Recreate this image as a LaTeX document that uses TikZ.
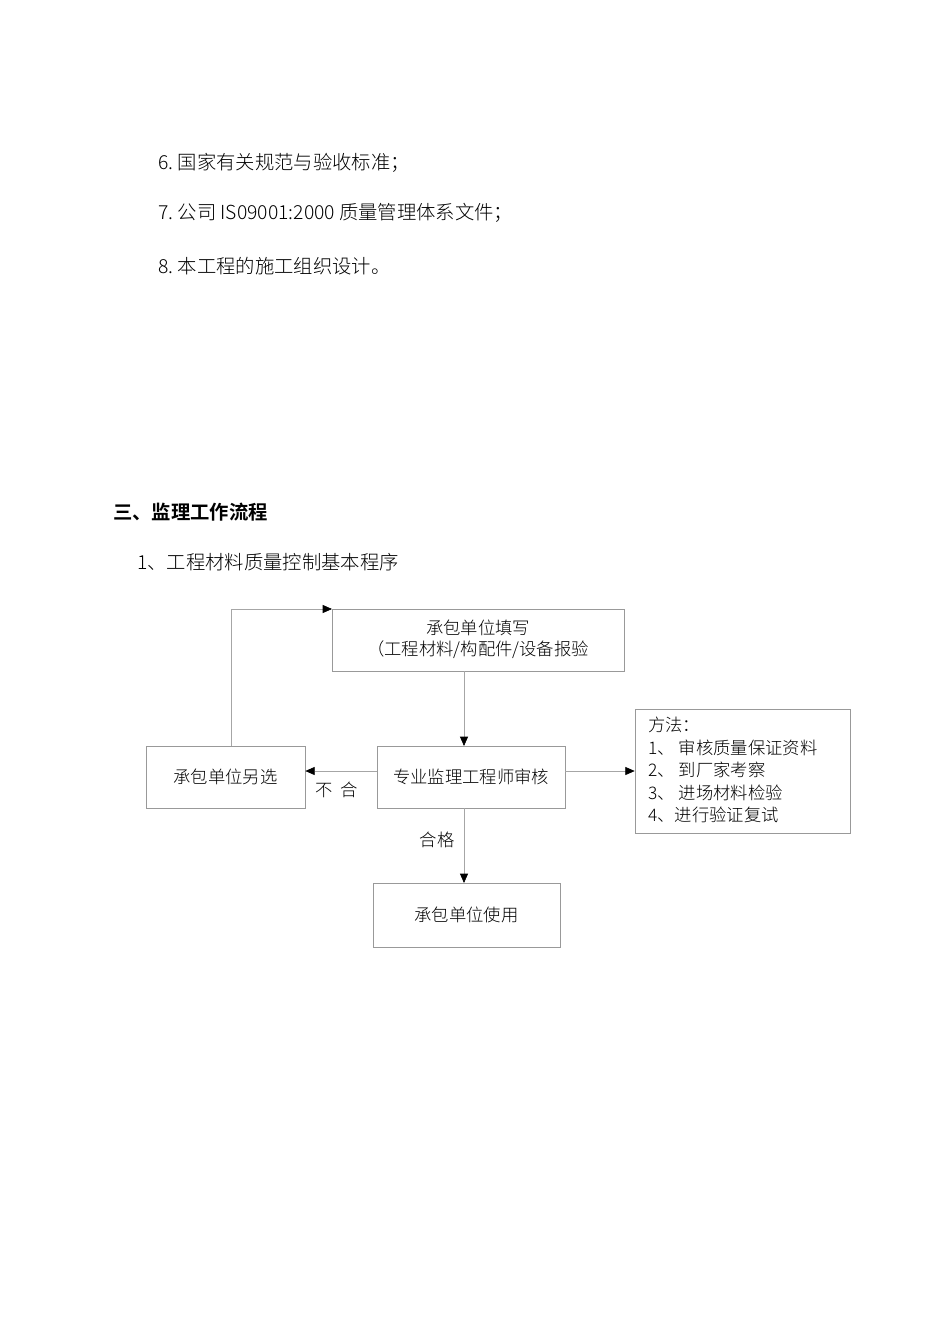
\documentclass[tikz,border=0pt]{standalone}
\usepackage{fontspec}
\setmainfont{Liberation Serif}
\newfontfamily\cjk{Noto Sans CJK SC Light}
\usetikzlibrary{arrows.meta}
\begin{document}
\begin{tikzpicture}[x=0.75pt,y=-0.75pt,
  box/.style={draw=gray!80,line width=0.5pt,rectangle},
  txt/.style={font=\cjk\fontsize{13}{16}\selectfont,inner sep=0pt},
  body/.style={font=\cjk\fontsize{14.5}{18}\selectfont,inner sep=0pt,anchor=west},
  conn/.style={draw=gray!70,line width=0.5pt,-{Triangle[length=7pt,width=6pt,fill=black,color=black]}}]
\useasboundingbox (0,0) rectangle (950,1344);
\node[body] (l6) at (158,163) {6.\ 国家有关规范与验收标准；};
\node[body] (l7) at (158,213) {7.\ 公司 IS09001:2000 质量管理体系文件；};
\node[body] (l8) at (158,266) {8.\ 本工程的施工组织设计。};
\node[body,font=\cjk\bfseries\fontsize{14.5}{18}\selectfont] (h3) at (113,512) {三、监理工作流程};
\node[body] (h1) at (137,562) {1、工程材料质量控制基本程序};
\draw[box] (332,609) rectangle (624,671);
\node[txt] (t1) at (478,628) {承包单位填写};
\node[txt] (t2) at (478,650) {（工程材料/构配件/设备报验};
\coordinate (top) at (332,609);
\coordinate (topb) at (464,671);
\node[box,minimum width=188*0.75pt,minimum height=62*0.75pt,txt] (rev) at (471,777) {专业监理工程师审核};
\node[box,minimum width=159*0.75pt,minimum height=62*0.75pt,txt] (alt) at (225.5,777) {承包单位另选};
\node[box,minimum width=187*0.75pt,minimum height=64*0.75pt,txt] (use) at (466.5,915) {承包单位使用};
\node[box,minimum width=215*0.75pt,minimum height=124*0.75pt] (meth) at (742.5,771) {};
\node[txt,anchor=west] (m0) at (648,725) {方法：};
\node[txt,anchor=west] (m1) at (648,748) {1、 审核质量保证资料};
\node[txt,anchor=west] (m2) at (648,770) {2、 到厂家考察};
\node[txt,anchor=west] (m3) at (648,793) {3、 进场材料检验};
\node[txt,anchor=west] (m4) at (648,815) {4、进行验证复试};
\draw[conn] (topb) -- (464,746);
\draw[conn] (rev.west |- 0,771) -- (alt.east |- 0,771);
\draw[conn] (231,746) -- (231,609) -- (top);
\draw[conn] (rev.east |- 0,771) -- (meth.west |- 0,771);
\draw[conn] (464,808) -- (464,883);
\node[txt] (bh) at (337,790) {不\ \ 合};
\node[txt] (hg) at (437,840) {合格};
\end{tikzpicture}
\end{document}
